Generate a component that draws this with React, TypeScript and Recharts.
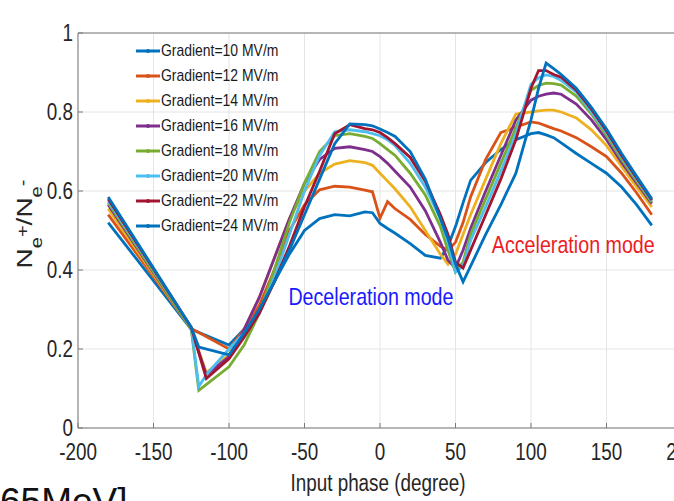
import {
  CartesianGrid,
  Legend,
  Line,
  LineChart,
  ReferenceDot,
  ReferenceLine,
  XAxis,
  YAxis,
} from "recharts";

// input phase (degree) sampled on a shared grid
const PHASE = [
  -180, -125, -120, -115, -100, -90, -80, -70, -60, -50, -40, -30, -20, -10, -5, 0, 5, 10, 20, 30, 40, 45, 50, 55,
  60, 70, 80, 90, 100, 105, 110, 115, 120, 130, 140, 150, 160, 170, 180,
];

// Ne+/Ne- per gradient (null = no sample at that phase)
const G10 = [
  0.52, 0.25, null, null, 0.21, 0.25, 0.3, 0.37, 0.44, 0.5, 0.53, 0.54, 0.537, 0.547, 0.545, 0.518, 0.505, 0.493,
  0.467, 0.437, 0.43, 0.46, 0.51, 0.57, 0.627, 0.672, 0.705, 0.73, 0.745, 0.748, 0.742, 0.735, 0.722, 0.695, 0.67,
  0.645, 0.61, 0.565, 0.513,
];
const G12 = [
  0.54, 0.252, null, null, 0.2, 0.25, 0.31, 0.4, 0.5, 0.565, 0.603, 0.612, 0.61, 0.602, 0.598, 0.531, 0.573, 0.555,
  0.528, 0.49, 0.46, 0.45, 0.47, 0.52, 0.585, 0.68, 0.748, 0.762, 0.775, 0.772, 0.765, 0.758, 0.752, 0.735, 0.712,
  0.687, 0.645, 0.595, 0.54,
];
const G14 = [
  0.555, 0.25, null, 0.14, 0.185, 0.25, 0.33, 0.43, 0.53, 0.6, 0.645, 0.668, 0.677, 0.672, 0.665, 0.645, 0.625, 0.605,
  0.56, 0.5, 0.44, 0.415, 0.44, 0.49, 0.54, 0.63, 0.72, 0.795, 0.8, 0.803, 0.805, 0.805, 0.8, 0.785, 0.755, 0.715,
  0.662, 0.61, 0.56,
];
const G16 = [
  0.565, 0.25, null, 0.135, 0.18, 0.25, 0.33, 0.43, 0.53, 0.62, 0.68, 0.708, 0.712, 0.705, 0.7, 0.687, 0.67, 0.65,
  0.61, 0.55, 0.47, 0.425, 0.405, 0.45, 0.505, 0.6, 0.69, 0.78, 0.83, 0.84, 0.845, 0.848, 0.845, 0.82, 0.78, 0.73,
  0.672, 0.62, 0.568,
];
const G18 = [
  0.57, 0.25, 0.095, null, 0.155, 0.21, 0.29, 0.4, 0.52, 0.62, 0.7, 0.74, 0.745, 0.738, 0.733, 0.72, 0.705, 0.69,
  0.645, 0.59, 0.51, 0.45, 0.395, 0.42, 0.49, 0.58, 0.67, 0.76, 0.855, 0.867, 0.873, 0.872, 0.868, 0.84, 0.795, 0.74,
  0.68, 0.625, 0.572,
];
const G20 = [
  0.575, 0.255, 0.105, 0.135, 0.2, 0.24, 0.29, 0.38, 0.49, 0.6, 0.69, 0.75, 0.755, 0.75, 0.745, 0.74, 0.73, 0.715,
  0.67, 0.61, 0.53, 0.47, 0.395, 0.41, 0.475, 0.56, 0.65, 0.745, 0.87, 0.887, 0.894, 0.89, 0.88, 0.85, 0.8, 0.747,
  0.686, 0.63, 0.575,
];
const G22 = [
  0.58, 0.255, null, 0.125, 0.175, 0.23, 0.29, 0.37, 0.46, 0.56, 0.65, 0.745, 0.768, 0.758, 0.755, 0.748, 0.735, 0.72,
  0.685, 0.625, 0.54, 0.49, 0.42, 0.405, 0.45, 0.54, 0.63, 0.73, 0.86, 0.905, 0.905, 0.895, 0.888, 0.855, 0.807,
  0.752, 0.69, 0.633, 0.577,
];
const G24 = [
  0.585, 0.255, 0.205, null, 0.185, 0.24, 0.3, 0.37, 0.45, 0.54, 0.63, 0.72, 0.77, 0.768, 0.765, 0.757, 0.748, 0.738,
  0.7, 0.63, 0.53, 0.48, 0.415, 0.37, 0.41, 0.49, 0.565, 0.645, 0.78, 0.86, 0.924, 0.91, 0.895, 0.86, 0.812, 0.757,
  0.695, 0.637, 0.58,
];

const GRADIENTS = [10, 12, 14, 16, 18, 20, 22, 24];
const SERIES = [G10, G12, G14, G16, G18, G20, G22, G24];
const X_TICKS = [-200, -150, -100, -50, 0, 50, 100, 150, 200];
const Y_TICKS = [0, 0.2, 0.4, 0.6, 0.8, 1];

// matlab default line order, wraps back to blue for the 8th line
const COLORS = ["#0072BD", "#D95319", "#EDB120", "#7E2F8E", "#77AC30", "#4DBEEE", "#A2142F", "#0072BD"];

const FONT = '"Liberation Sans", Arial, sans-serif';
const SQUEEZE = 0.82; // the source figure is horizontally squashed
const TEXT = "#262626";
const AXIS = "#7a7a7a";

const data = PHASE.map((x, i) => {
  const row: Record<string, number | null> = { phase: x };
  GRADIENTS.forEach((g, k) => {
    row[`g${g}`] = SERIES[k][i];
  });
  return row;
});

function NarrowText({ x, y, anchor, size, fill = TEXT, dy, children }: any) {
  return (
    <text
      transform={`translate(${x},${y}) scale(${SQUEEZE},1)`}
      textAnchor={anchor}
      fontSize={size}
      fontFamily={FONT}
      fill={fill}
      dy={dy}
    >
      {children}
    </text>
  );
}

function XTick(p: any) {
  return (
    <NarrowText x={p.x} y={p.y} anchor="middle" size={23} dy="0.71em">
      {String(p.payload.value)}
    </NarrowText>
  );
}

function YTick(p: any) {
  return (
    <NarrowText x={p.x} y={p.y} anchor="end" size={23} dy="0.36em">
      {String(p.payload.value)}
    </NarrowText>
  );
}

function ModeLabel({ viewBox, text, color }: any) {
  const cx = viewBox.x + (viewBox.width || 0) / 2;
  const cy = viewBox.y + (viewBox.height || 0) / 2;
  return (
    <NarrowText x={cx} y={cy} anchor="middle" size={24} fill={color} dy="0.36em">
      {text}
    </NarrowText>
  );
}

function GradientLegend() {
  return (
    <div style={{ fontFamily: FONT, fontSize: 17, color: "#1a1a1a", whiteSpace: "nowrap" }}>
      {GRADIENTS.map((g, i) => (
        <div key={g} style={{ display: "flex", alignItems: "center", height: 25 }}>
          <svg width={26} height={10} style={{ display: "block", flex: "none" }}>
            <line x1={1} y1={5} x2={25} y2={5} stroke={COLORS[i]} strokeWidth={3} />
            <circle cx={13} cy={5} r={2} fill={COLORS[i]} />
          </svg>
          <span style={{ display: "inline-block", transform: `scaleX(${SQUEEZE})`, transformOrigin: "left center" }}>
            Gradient={g} MV/m
          </span>
        </div>
      ))}
    </div>
  );
}

function YLabel() {
  return (
    <text
      transform={`translate(32, 224) scale(${SQUEEZE},1) rotate(-90)`}
      textAnchor="middle"
      fontSize={28}
      fontFamily={FONT}
      fill={TEXT}
    >
      <tspan>N</tspan>
      <tspan dy={12} fontSize={20}>e</tspan>
      <tspan dy={-17} fontSize={20}>+</tspan>
      <tspan dy={5}>/N</tspan>
      <tspan dy={12} fontSize={20}>e</tspan>
      <tspan dy={-17} fontSize={20}>-</tspan>
    </text>
  );
}

function XLabel(props: any) {
  const vb = props.viewBox || { x: 78, width: 604 };
  return (
    <NarrowText x={vb.x + vb.width / 2 - 2} y={491} anchor="middle" size={23}>
      Input phase (degree)
    </NarrowText>
  );
}

export default function App() {
  return (
    <div
      style={{
        position: "absolute",
        left: 0,
        top: 0,
        width: 674,
        height: 501,
        overflow: "hidden",
        background: "#ffffff",
      }}
    >
      <LineChart width={700} height={501} data={data} margin={{ top: 33, right: 18, bottom: 0, left: 0 }}>
        <CartesianGrid stroke="#e4e4e4" strokeWidth={1} />
        <XAxis
          dataKey="phase"
          type="number"
          domain={[-200, 200]}
          ticks={X_TICKS}
          height={73}
          stroke={AXIS}
          tickSize={-5}
          tickMargin={21}
          tick={<XTick />}
          label={<XLabel />}
        />
        <XAxis
          xAxisId="top"
          orientation="top"
          type="number"
          domain={[-200, 200]}
          ticks={X_TICKS}
          height={0}
          stroke={AXIS}
          tickSize={-5}
          tickFormatter={() => ""}
        />
        <YAxis
          type="number"
          domain={[0, 1]}
          ticks={Y_TICKS}
          width={78}
          stroke={AXIS}
          tickSize={-5}
          tickMargin={10}
          tick={<YTick />}
          label={<YLabel />}
        />
        <ReferenceLine y={1} stroke={AXIS} />
        {GRADIENTS.map((g, i) => (
          <Line
            key={g}
            type="linear"
            dataKey={`g${g}`}
            name={`Gradient=${g} MV/m`}
            stroke={COLORS[i]}
            strokeWidth={2.8}
            dot={false}
            connectNulls
            isAnimationActive={false}
          />
        ))}
        <ReferenceDot
          x={-6}
          y={0.334}
          r={0}
          fill="none"
          stroke="none"
          label={<ModeLabel text="Deceleration mode" color="#1a1aff" />}
        />
        <ReferenceDot
          x={128}
          y={0.465}
          r={0}
          fill="none"
          stroke="none"
          label={<ModeLabel text="Acceleration mode" color="#ec1c24" />}
        />
        <Legend
          layout="horizontal"
          verticalAlign="middle"
          align="center"
          wrapperStyle={{ left: 135, top: 38, width: 170, height: 200 }}
          content={<GradientLegend />}
        />
      </LineChart>
      <svg width={674} height={501} style={{ position: "absolute", left: 0, top: 0, pointerEvents: "none" }}>
        <text x={0} y={514} fontSize={37} fontFamily={FONT} fill="#111">
          65MeV]
        </text>
      </svg>
    </div>
  );
}
